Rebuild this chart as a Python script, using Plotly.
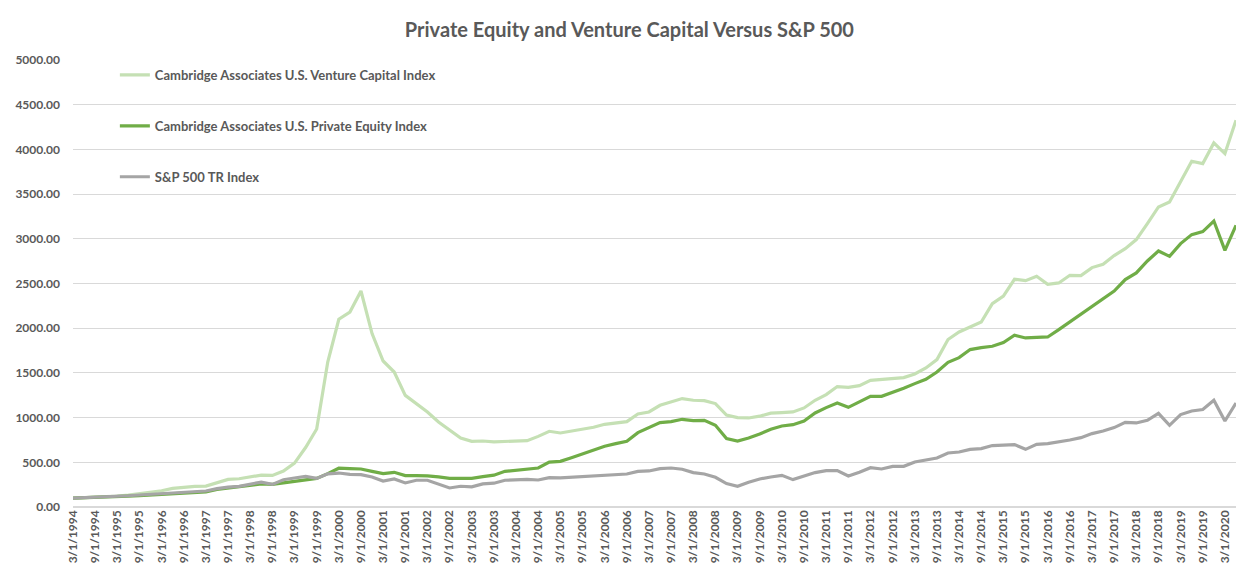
import plotly.graph_objects as go

# Quarterly category labels (Excel-style), 3/1/1994 .. 6/1/2020
years = list(range(1994, 2021))
months = [3, 6, 9, 12]
dates = [f"{m}/1/{y}" for y in years for m in months][:106]

vc_index = [100, 104, 108, 115, 123, 134, 149, 164, 182, 208,
            220, 231, 234, 272, 309, 316, 339, 357, 353, 402,
            491, 665, 872, 1622, 2100, 2181, 2416, 1940, 1633, 1510,
            1249, 1156, 1063, 951, 858, 772, 735, 738, 729, 731,
            742, 742, 790, 847, 828, 850, 877, 892, 925, 936,
            955, 1041, 1063, 1138, 1171, 1213, 1194, 1190, 1157, 1029,
            1000, 996, 1016, 1050, 1056, 1063, 1108, 1194, 1257, 1347,
            1339, 1358, 1417, 1425, 1432, 1447, 1488, 1555, 1649, 1873,
            1958, 2014, 2069, 2275, 2360, 2547, 2532, 2581, 2491, 2506,
            2592, 2588, 2678, 2715, 2812, 2890, 2991, 3170, 3356, 3412,
            3635, 3867, 3841, 4072, 3953, 4326]

pe_index = [100, 103, 106, 110, 115, 121, 128, 135, 143, 150,
            157, 165, 170, 197, 212, 223, 238, 257, 253, 272,
            287, 307, 320, 373, 434, 430, 425, 399, 373, 388,
            351, 351, 348, 336, 321, 321, 321, 340, 356, 399,
            410, 425, 436, 503, 511, 552, 597, 642, 679, 709,
            735, 832, 884, 944, 955, 981, 966, 970, 914, 765,
            738, 772, 817, 869, 906, 921, 962, 1052, 1112, 1163,
            1115, 1175, 1238, 1238, 1280, 1328, 1380, 1428, 1510, 1619,
            1671, 1761, 1783, 1798, 1840, 1921, 1891, 1898, 1902, 1984,
            2069, 2163, 2245, 2323, 2416, 2544, 2618, 2752, 2864, 2804,
            2946, 3047, 3081, 3199, 2871, 3151]

sp_index = [100, 104, 108, 112, 119, 126, 134, 141, 149, 156,
            164, 175, 179, 205, 223, 231, 257, 279, 253, 305,
            324, 343, 320, 371, 380, 364, 362, 336, 291, 313,
            269, 299, 299, 254, 213, 232, 225, 258, 266, 299,
            306, 310, 302, 328, 325, 332, 343, 347, 358, 358,
            369, 399, 403, 429, 436, 422, 385, 369, 332, 262,
            231, 276, 313, 336, 354, 306, 347, 385, 407, 407,
            347, 388, 440, 425, 455, 455, 503, 522, 548, 604,
            615, 645, 653, 687, 696, 698, 645, 701, 709, 727,
            749, 776, 821, 850, 888, 947, 940, 970, 1048, 914,
            1034, 1074, 1090, 1194, 962, 1163]

series_names = ["Cambridge Associates U.S. Venture Capital Index",
                "Cambridge Associates U.S. Private Equity Index",
                "S&P 500 TR Index"]
series_colors = ["#c5e0b4", "#70ad47", "#a5a5a5"]
series_values = [vc_index, pe_index, sp_index]

tick_labels = dates[::2]

FONT = "Lato"
TXT = "#595959"

fig = go.Figure()
for i, (name, vals, col) in enumerate(zip(series_names, series_values, series_colors)):
    fig.add_trace(go.Scatter(
        x=dates, y=vals, mode="lines", name=name,
        line=dict(color=col, width=3.2),
        legendgroup=f"g{i}",
    ))

fig.update_layout(
    width=1239, height=575,
    margin=dict(l=73, r=3, t=60, b=68),
    paper_bgcolor="white", plot_bgcolor="white",
    font=dict(family=FONT, color=TXT),
    title=dict(text="<b>Private Equity and Venture Capital Versus S&P 500</b>",
               x=0.508, xref="container", xanchor="center",
               y=0.948, yref="container", yanchor="middle",
               font=dict(family=FONT, size=20, color=TXT)),
    legend=dict(x=0.036, y=1.0, xanchor="left", yanchor="top",
                bgcolor="rgba(0,0,0,0)", tracegroupgap=31,
                itemwidth=30,
                font=dict(family=FONT, size=13, color=TXT, weight="bold")),
    showlegend=True,
)

fig.update_xaxes(
    type="category", range=[0, len(dates) - 1], automargin=False,
    tickmode="array", tickvals=tick_labels, ticktext=tick_labels,
    tickangle=-90, showgrid=False, showline=False, ticks="",
    tickfont=dict(family=FONT, size=12, color=TXT, weight="bold"),
)
fig.update_yaxes(
    range=[0, 5000], dtick=500, tickformat=".2f", automargin=False,
    showgrid=True, gridcolor="#d9d9d9", gridwidth=1,
    zeroline=True, zerolinecolor="#d9d9d9", zerolinewidth=1.5,
    showline=False, ticks="", ticklabelstandoff=12,
    tickfont=dict(family=FONT, size=12, color=TXT, weight="bold"),
)

fig.write_html(
    "out.html",
    config={"displayModeBar": False},
    post_script="document.body.style.margin='0';document.body.style.overflow='hidden';",
)
